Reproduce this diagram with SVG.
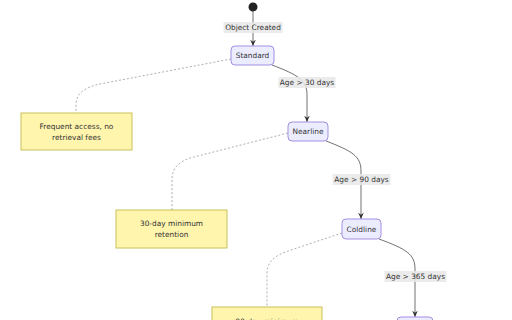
<svg xmlns="http://www.w3.org/2000/svg" width="512" height="320" viewBox="0 0 512 320">
<style>
text{font-family:"DejaVu Sans",Verdana,sans-serif;font-size:7.4px;fill:#333;text-anchor:middle;dominant-baseline:central}
.state rect{fill:#ECECFF;stroke:#a38fe0;stroke-width:1}
.note rect{fill:#fff5ad;stroke:#c9c25a;stroke-width:1}
.edge{fill:none;stroke:#333;stroke-width:0.7}
.dash{fill:none;stroke:#999;stroke-width:0.8;stroke-dasharray:2,2}
.lbl{fill:#e8e8e8;fill-opacity:0.85}
</style>
<defs>
<marker id="arr" viewBox="0 0 10 10" refX="9" refY="5" markerWidth="7" markerHeight="7" orient="auto" markerUnits="userSpaceOnUse">
<path d="M0,1 L9,5 L0,9 L3,5 Z" fill="#333"/>
</marker>
</defs>
<rect width="512" height="320" fill="#fff"/>
<g id="connectors">
<path class="edge" d="M253,11 L253,46" marker-end="url(#arr)"/>
<path class="edge" d="M272,65 C298,75 307,80 307,95 L307,122" marker-end="url(#arr)"/>
<path class="edge" d="M326,141 C352,151 361,156 361,171 L361,219" marker-end="url(#arr)"/>
<path class="edge" d="M379,239 C406,249 415,254 415,269 L415,317" marker-end="url(#arr)"/>
<path class="dash" d="M231,59 L100,84 C82,88 76,95 76,105 L76,113"/>
<path class="dash" d="M288,133 L190,158 C176,163 172,170 172,180 L172,210"/>
<path class="dash" d="M342,233 L285,252 C271,258 267,264 267,274 L267,307"/>
<rect class="lbl" x="223.5" y="22" width="59" height="11"/>
<text x="253" y="27.5">Object Created</text>
<rect class="lbl" x="278.5" y="77" width="57" height="11"/>
<text x="307" y="82.5">Age &gt; 30 days</text>
<rect class="lbl" x="332.5" y="174" width="58" height="11"/>
<text x="361.5" y="179.5">Age &gt; 90 days</text>
<rect class="lbl" x="384.5" y="271" width="62" height="11"/>
<text x="415.5" y="276.5">Age &gt; 365 days</text>
</g>
<g id="start"><circle cx="253" cy="7" r="4.5" fill="#222"/></g>
<g id="Standard" class="state"><rect x="231" y="46" width="43" height="19" rx="4"/><text x="252.5" y="55.5">Standard</text></g>
<g id="Nearline" class="state"><rect x="288" y="122" width="40" height="19" rx="4"/><text x="308" y="131.5">Nearline</text></g>
<g id="Coldline" class="state"><rect x="342" y="219" width="39" height="20" rx="4"/><text x="361.5" y="229">Coldline</text></g>
<g id="Archive" class="state"><rect x="397" y="317" width="36" height="20" rx="4"/></g>
<g id="note1" class="note"><rect x="21" y="113" width="111" height="37"/><text x="76.5" y="126">Frequent access, no</text><text x="76.5" y="137">retrieval fees</text></g>
<g id="note2" class="note"><rect x="116" y="210" width="111" height="38"/><text x="171.5" y="223">30-day minimum</text><text x="171.5" y="234">retention</text></g>
<g id="note3" class="note"><rect x="212" y="307" width="110" height="38"/><text x="267" y="321">90-day minimum</text></g>
</svg>
